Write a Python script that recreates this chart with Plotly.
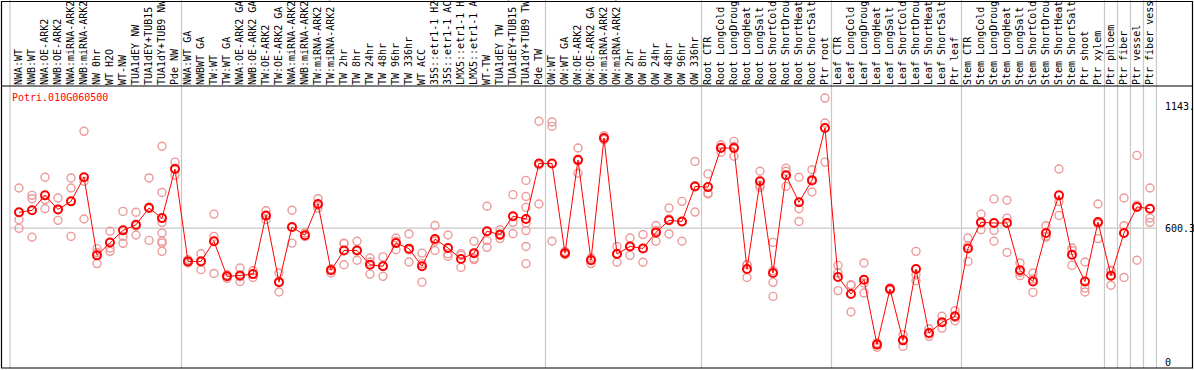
import plotly.graph_objects as go

TITLE = "Potri.010G060500"

CATEGORIES = [
    "NWA:WT", "NWB:WT", "NWA:OE-ARK2", "NWB:OE-ARK2", "NWA:miRNA-ARK2", "NWB:miRNA-ARK2",
    "NW 0hr", "WT H2O", "WT-NW", "TUA1dEY NW", "TUA1dEY+TUB15 NW", "TUA1dY+TUB9 NW", "Pde NW",
    "NWA:WT GA", "NWBWT GA", "TW:WT", "TW:WT GA", "NWA:OE-ARK2 GA", "NWB:OE-ARK2 GA",
    "TW:OE-ARK2", "TW:OE-ARK2 GA", "NWA:miRNA-ARK2 GA", "NWB:miRNA-ARK2 GA", "TW:miRNA-ARK2",
    "TW:miRNA-ARK2 GA", "TW 2hr", "TW 8hr", "TW 24hr", "TW 48hr", "TW 96hr", "TW 336hr", "WT ACC",
    "35S::etr1-1 H2O", "35S::etr1-1 ACC", "LMX5::etr1-1 H2O", "LMX5::etr1-1 ACC", "WT-TW",
    "TUA1dEY TW", "TUA1dEY+TUB15 TW", "TUA1dY+TUB9 TW", "Pde TW",
    "OW:WT", "OW:WT GA", "OW:OE-ARK2", "OW:OE-ARK2 GA", "OW:miRNA-ARK2", "OW:miRNA-ARK2 GA",
    "OW 2hr", "OW 8hr", "OW 24hr", "OW 48hr", "OW 96hr", "OW 336hr",
    "Root CTR", "Root LongCold", "Root LongDrought", "Root LongHeat", "Root LongSalt",
    "Root ShortCold", "Root ShortDrought", "Root ShortHeat", "Root ShortSalt", "Ptr root",
    "Leaf CTR", "Leaf LongCold", "Leaf LongDrought", "Leaf LongHeat", "Leaf LongSalt",
    "Leaf ShortCold", "Leaf ShortDrought", "Leaf ShortHeat", "Leaf ShortSalt", "Ptr leaf",
    "Stem CTR", "Stem LongCold", "Stem LongDrought", "Stem LongHeat", "Stem LongSalt",
    "Stem ShortCold", "Stem ShortDrought", "Stem ShortHeat", "Stem ShortSalt", "Ptr shoot",
    "Ptr xylem", "Ptr phloem", "Ptr fiber", "Ptr vessel", "Ptr fiber vessel",
]

MEANS = [
    671, 680, 747, 684, 720, 828, 478, 536, 590, 615, 690, 645, 865,
    451, 451, 541, 384, 388, 394, 657, 358, 605, 568, 708, 411, 500, 500, 436, 429,
    533, 508, 429, 551, 511, 462, 488, 586, 571, 653, 641, 890,
    890, 488, 905, 456, 1004, 484, 518, 509, 581, 635, 630, 787,
    784, 959, 959, 417, 810, 399, 837, 716, 814, 1049,
    381, 305, 369, 78, 327, 97, 417, 130, 178, 205,
    509, 626, 623, 623, 411, 361, 578, 747, 481, 361, 627,
    387, 578, 695, 687,
]

REPLICATES = [
    [780, 638, 599], [747, 732, 559], [828, 728, 687], [735, 684, 635], [825, 780, 563],
    [1034, 810, 641], [508, 490, 441], [586, 511, 496], [675, 563, 532], [671, 610, 569],
    [825, 695, 545], [967, 760, 626, 578, 541, 533, 496], [896, 869, 837],
    [458, 451, 444], [485, 454, 414], [663, 563, 397], [391, 385, 375], [421, 382, 361],
    [409, 394, 379], [678, 655, 638], [399, 361, 314], [680, 603, 533], [578, 563, 563],
    [732, 702, 690], [417, 417, 399], [533, 531, 436], [541, 503, 456], [466, 448, 394],
    [471, 432, 384], [556, 541, 503], [574, 502, 448], [488, 441, 358], [612, 541, 500],
    [569, 485, 474], [485, 478, 424], [541, 465, 459], [698, 544, 514], [593, 567, 553],
    [750, 626, 575], [814, 742, 693, 623, 589, 518, 441], [1079, 883, 708],
    [1076, 1056, 541], [495, 488, 481], [959, 910, 846], [466, 461, 441], [1014, 1001, 997],
    [518, 487, 447], [556, 520, 478], [571, 509, 447], [612, 590, 541], [690, 641, 574],
    [720, 629, 541], [899, 790, 672],
    [843, 757, 753], [974, 963, 940], [989, 966, 922], [436, 436, 379], [855, 792, 783],
    [536, 409, 357, 294], [869, 855, 787], [828, 687, 630], [862, 818, 762], [1183, 1071, 896],
    [433, 399, 320], [347, 344, 224], [444, 354, 309], [85, 83, 66], [332, 328, 321],
    [122, 99, 70], [496, 391, 364], [149, 126, 115], [205, 177, 152], [230, 200, 185],
    [556, 520, 451], [663, 622, 593], [731, 590, 541], [725, 645, 491], [444, 402, 387],
    [399, 372, 312], [611, 564, 559], [865, 719, 657], [511, 499, 433], [448, 332, 314],
    [708, 620, 553],
    [411, 406, 344], [735, 611, 379], [926, 703, 456], [780, 645, 626],
]

# group boundaries: separator drawn after these category indices
SEPARATOR_AFTER = [12, 40, 52, 62, 72, 83, 84, 85, 86, 87]

Y_TICKS = [0, 600.3, 1143.4]
Y_TICKTEXT = ["0", "600.3", "1143."]
Y_GRID = 600.3

FONT = "DejaVu Sans Mono"
RED = "#ff0000"
PINK = "#ec9a9a"
GRID = "#c8c8c8"

x_idx = list(range(len(CATEGORIES)))
rep_x, rep_y = [], []
for i, reps in enumerate(REPLICATES):
    for v in reps:
        rep_x.append(i)
        rep_y.append(v)

fig = go.Figure()
fig.add_trace(go.Scatter(
    x=rep_x, y=rep_y, mode="markers",
    marker=dict(symbol="circle-open", size=8, color=PINK, line=dict(width=1.4, color=PINK)),
    hoverinfo="skip", showlegend=False,
))
fig.add_trace(go.Scatter(
    x=x_idx, y=MEANS, mode="lines+markers",
    line=dict(color=RED, width=1),
    marker=dict(symbol="circle-open", size=8, color=RED, line=dict(width=2, color=RED)),
    showlegend=False,
))

W, H = 1194, 370
ML, MR, MT, MB = 10, 37, 86, 2
pw = W - ML - MR
ph = H - MT - MB

shapes = []
for b in SEPARATOR_AFTER:
    shapes.append(dict(type="line", xref="x", yref="paper", x0=b + 0.5, x1=b + 0.5,
                       y0=0, y1=1 + MT / ph, line=dict(color=GRID, width=1.2), layer="below"))
shapes.append(dict(type="line", xref="paper", yref="paper", x0=0, x1=0,
                   y0=0, y1=1 + MT / ph, line=dict(color=GRID, width=1.2), layer="below"))
shapes.append(dict(type="line", xref="paper", yref="y", x0=0, x1=1, y0=Y_GRID, y1=Y_GRID,
                   line=dict(color=GRID, width=1.2), layer="below"))
shapes.append(dict(type="line", xref="paper", yref="paper", x0=-(ML - 1) / pw, x1=(W - ML - 1) / pw,
                   y0=1, y1=1, line=dict(color="black", width=1.2)))
shapes.append(dict(type="rect", xref="paper", yref="paper",
                   x0=-(ML - 1.5) / pw, x1=(W - ML - 1.5) / pw,
                   y0=0, y1=1 + (MT - 1.5) / ph, line=dict(color="black", width=1.2)))

fig.update_layout(
    width=W, height=H,
    margin=dict(l=ML, r=MR, t=MT, b=MB, pad=0),
    paper_bgcolor="white", plot_bgcolor="white",
    font=dict(family=FONT, size=10, color="black"),
    shapes=shapes,
    annotations=[dict(text=TITLE, xref="paper", yref="paper", x=0, y=1 - 11 / ph,
                      xanchor="left", yanchor="middle", showarrow=False,
                      font=dict(family=FONT, size=10, color=RED))],
    xaxis=dict(
        side="top", range=[-0.692, 87.54], tickmode="array", tickvals=x_idx, ticktext=CATEGORIES,
        tickangle=-90, ticks="", showgrid=False, zeroline=False, showline=False,
        tickfont=dict(family=FONT, size=10, color="black"), automargin=False,
    ),
    yaxis=dict(
        side="right", range=[-26.9, 1237.1], tickmode="array", tickvals=Y_TICKS, ticktext=Y_TICKTEXT,
        ticks="outside", ticklen=5, tickcolor="rgba(0,0,0,0)", showgrid=False, zeroline=False,
        showline=False, tickfont=dict(family=FONT, size=10, color="black"), automargin=False,
    ),
)

fig.write_html(
    "out.html",
    config={"displayModeBar": False},
    post_script="document.body.style.margin='0';document.body.style.overflow='hidden';",
)
